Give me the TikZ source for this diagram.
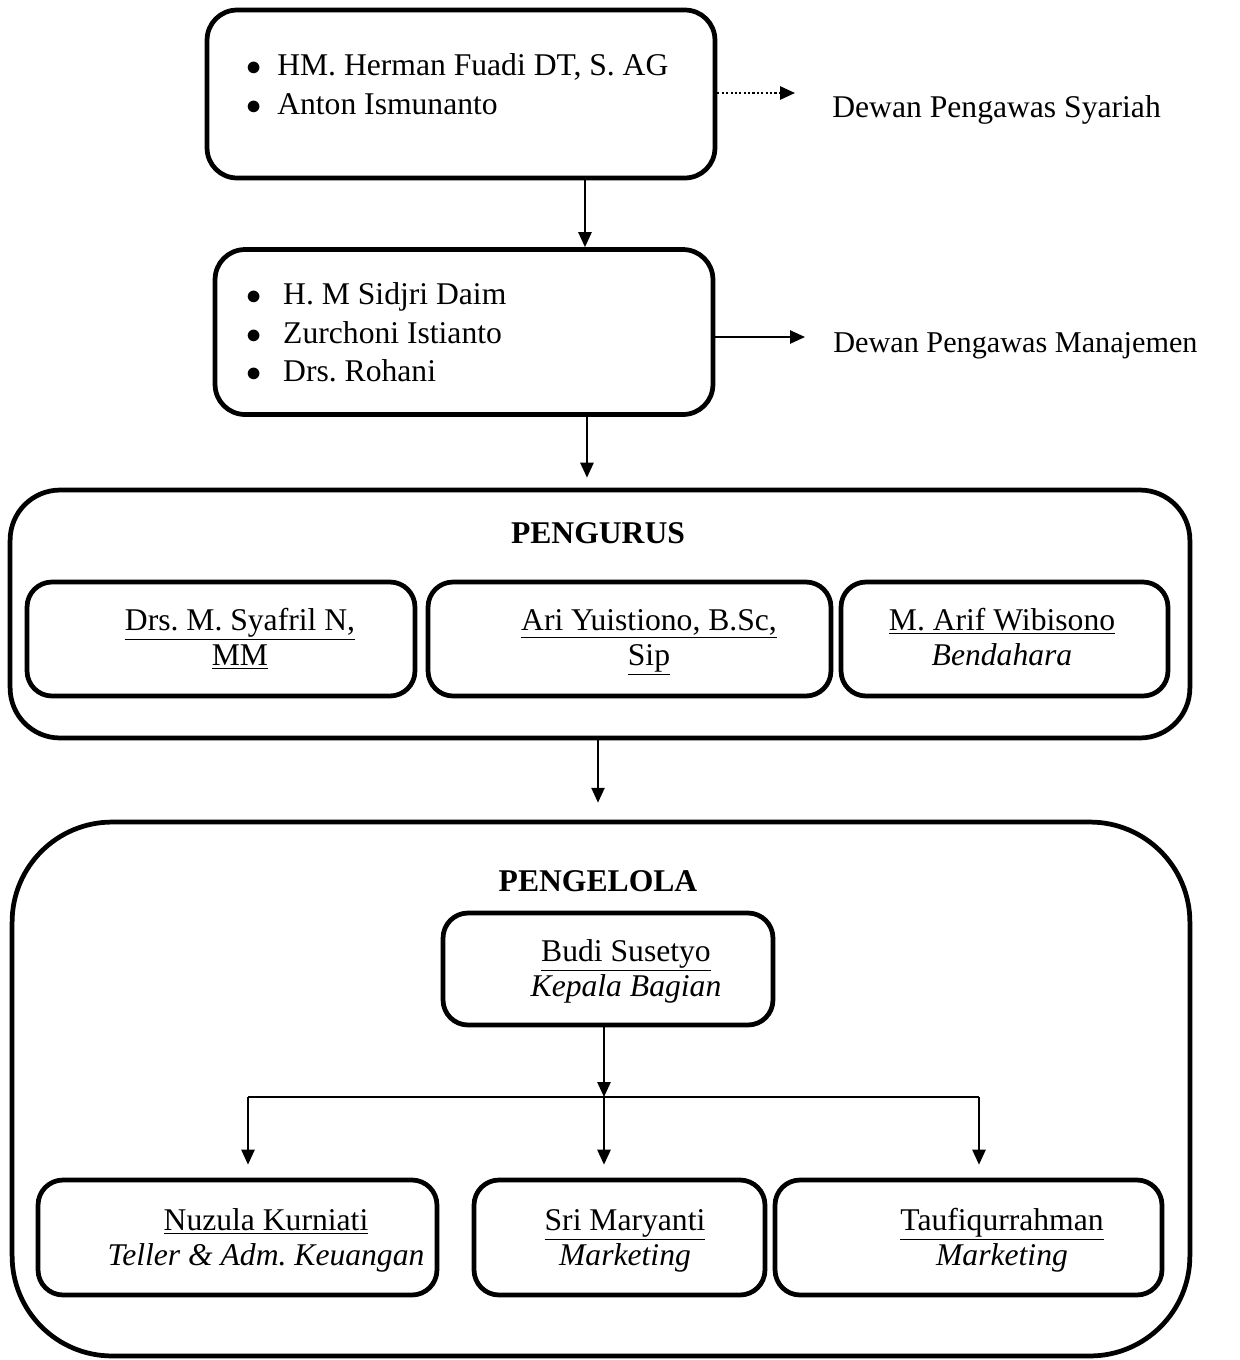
\documentclass[tikz,border=0pt]{standalone}
\usepackage{fontspec}
\setmainfont{Liberation Serif}
\usetikzlibrary{arrows.meta, positioning}
\frenchspacing

\newcommand{\nama}[1]{\strut\underline{#1}}
\newcommand{\jabatan}[1]{\strut\textit{#1}}

\begin{document}
\begin{tikzpicture}[x=0.02cm, y=-0.02cm,
    font=\fontsize{18}{20}\selectfont,
    box/.style={draw, line width=2.7pt, rounded corners=0.5cm, inner sep=0pt},
    item/.style={anchor=base west, inner sep=0pt},
    txt/.style={align=center, inner sep=0pt},
    arr/.style={-{Triangle[length=8.5pt, width=7.5pt]}, line width=1.1pt}]

  \useasboundingbox (0,0) rectangle (1240,1360);

  % Dewan Pengawas Syariah
  \node[box, rounded corners=0.6cm, minimum width=10.16cm, minimum height=3.36cm] (syariah) at (461,94) {};
  \node[item] (herman) at (246,75) {\makebox[17.6pt][l]{$\bullet$}HM. Herman Fuadi DT, S. AG};
  \node[item] (anton) at (246,114) {\makebox[17.6pt][l]{$\bullet$}Anton Ismunanto};
  \node[anchor=base west, inner sep=0pt] (dps) at (832,117) {Dewan Pengawas Syariah};
  \coordinate (dpsarr) at (795,93);
  \draw[arr, dash pattern=on 1.2pt off 1.3pt, line width=1.2pt] (syariah.east |- dpsarr) -- (dpsarr);

  % Dewan Pengawas Manajemen
  \node[box, rounded corners=0.6cm, minimum width=9.96cm, minimum height=3.3cm] (manajemen) at (464,332) {};
  \node[item] (sidjri) at (246,304) {\makebox[21pt][l]{$\bullet$}H. M Sidjri Daim};
  \node[item] (zurchoni) at (246,343) {\makebox[21pt][l]{$\bullet$}Zurchoni Istianto};
  \node[item] (rohani) at (246,381) {\makebox[21pt][l]{$\bullet$}Drs. Rohani};
  \node[anchor=base west, inner sep=0pt, font=\fontsize{17.2}{20}\selectfont] (dpm) at (833,352) {Dewan Pengawas Manajemen};
  \coordinate (dpmarr) at (805,337);
  \draw[arr] (manajemen.east |- dpmarr) -- (dpmarr);

  \draw[arr] ([xshift=2.48cm]syariah.south) -- ([xshift=2.48cm]syariah.south |- manajemen.north);

  % Pengurus
  \node[box, rounded corners=1cm, minimum width=23.6cm, minimum height=4.96cm] (pengurus) at (600,614) {};
  \node[anchor=base, inner sep=0pt] (pengurustitle) at (598,543) {\textbf{PENGURUS}};
  \node[box, minimum width=7.76cm, minimum height=2.28cm] (syafril) at (221,639) {};
  \node[box, minimum width=8.06cm, minimum height=2.28cm] (ari) at (629.5,639) {};
  \node[box, minimum width=6.54cm, minimum height=2.28cm] (arif) at (1004.5,639) {};
  \node[txt] at (240,641) {\nama{Drs. M. Syafril N,}\\\nama{MM}};
  \node[txt] at (649,641) {\nama{Ari Yuistiono, B.Sc,}\\\nama{Sip}};
  \node[txt] at (1002,641) {\nama{M. Arif Wibisono}\\\jabatan{Bendahara}};

  \draw[arr, shorten >=0.2cm] ([xshift=2.46cm]manajemen.south) -- ([xshift=2.46cm]manajemen.south |- pengurus.north);

  % Pengelola
  \node[box, rounded corners=2cm, minimum width=23.56cm, minimum height=10.68cm] (pengelola) at (601,1089) {};
  \node[anchor=base, inner sep=0pt] (pengelolatitle) at (598,891) {\textbf{PENGELOLA}};
  \draw[arr, shorten >=0.34cm] ([xshift=-0.04cm]pengurus.south) -- ([xshift=-0.04cm]pengurus.south |- pengelola.north);

  \node[box, minimum width=6.6cm, minimum height=2.24cm] (budi) at (608,969) {};
  \node[txt] at (626,972) {\nama{Budi Susetyo}\\\jabatan{Kepala Bagian}};

  \node[box, minimum width=7.98cm, minimum height=2.3cm] (nuzula) at (237.5,1237.5) {};
  \node[box, minimum width=5.82cm, minimum height=2.3cm] (sri) at (619.5,1237.5) {};
  \node[box, minimum width=7.74cm, minimum height=2.3cm] (taufiq) at (968.5,1237.5) {};
  \node[txt] at (266,1241) {\nama{Nuzula Kurniati}\\\jabatan{Teller \& Adm. Keuangan}};
  \node[txt] at (625,1241) {\nama{Sri Maryanti}\\\jabatan{Marketing}};
  \node[txt] at (1002,1241) {\nama{Taufiqurrahman}\\\jabatan{Marketing}};

  % garis cabang
  \coordinate (barL) at (248,1097);
  \coordinate (barM) at (604,1097);
  \coordinate (barR) at (979,1097);
  \draw[line width=0.8pt] (barL) -- (barR);
  \draw[arr] (budi.south -| barM) -- (barM);
  \draw[arr, shorten >=0.26cm] (barL) -- (barL |- nuzula.north);
  \draw[arr, shorten >=0.26cm] (barM) -- (barM |- sri.north);
  \draw[arr, shorten >=0.26cm] (barR) -- (barR |- taufiq.north);
\end{tikzpicture}
\end{document}
